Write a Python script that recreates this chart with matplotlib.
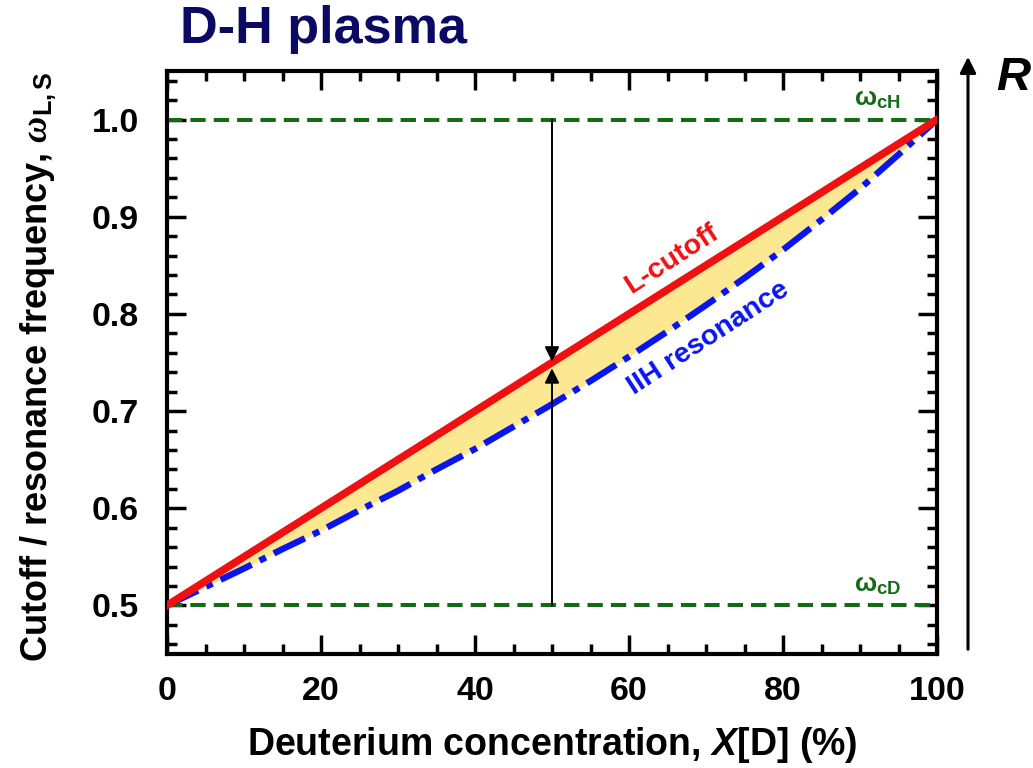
import matplotlib
matplotlib.use("Agg")
import matplotlib.pyplot as plt
from matplotlib.patches import FancyArrowPatch
from matplotlib.ticker import MultipleLocator

plt.rcParams['font.family'] = ['Liberation Sans', 'DejaVu Sans']
plt.rcParams['font.weight'] = 'bold'
plt.rcParams['mathtext.fontset'] = 'custom'
plt.rcParams['mathtext.rm'] = 'Liberation Sans:bold'
plt.rcParams['mathtext.bf'] = 'Liberation Sans:bold'
plt.rcParams['mathtext.it'] = 'Liberation Serif:italic'
plt.rcParams['mathtext.bfit'] = 'Liberation Sans:bold:italic'

# Data
x_conc = [0, 5, 10, 15, 20, 25, 30, 35, 40, 45, 50, 55, 60, 65, 70, 75, 80, 85, 90, 95, 100]
l_cutoff = [0.500, 0.525, 0.550, 0.575, 0.600, 0.625, 0.650, 0.675, 0.700, 0.725, 0.750,
            0.775, 0.800, 0.825, 0.850, 0.875, 0.900, 0.925, 0.950, 0.975, 1.000]
iih_res = [0.500, 0.519, 0.538, 0.558, 0.577, 0.598, 0.618, 0.640, 0.661, 0.684, 0.707,
           0.731, 0.756, 0.782, 0.809, 0.837, 0.866, 0.897, 0.929, 0.964, 1.000]
w_cH = 1.0
w_cD = 0.5
x_mark = 50
x_ticks = [0, 20, 40, 60, 80, 100]
y_ticks = [0.5, 0.6, 0.7, 0.8, 0.9, 1.0]

W, H = 1033, 768
fig = plt.figure(figsize=(W/100, H/100), dpi=100)
ax = fig.add_axes([167/W, 1-654/H, (937-167)/W, (654-71)/H])

ax.fill_between(x_conc, iih_res, l_cutoff, color='#fce890', lw=0, zorder=1)
ax.axhline(w_cH, color='#136b13', lw=2.9, ls=(0, (3.8, 2.0)), zorder=2)
ax.axhline(w_cD, color='#136b13', lw=2.9, ls=(0, (3.8, 2.0)), zorder=2)
ax.plot(x_conc, iih_res, color='#0a14f0', lw=4.6, ls=(0, (5.4, 1.4, 1.1, 1.4)), zorder=3)
ax.plot(x_conc, l_cutoff, color='#f01010', lw=5.5, zorder=4)

ax.annotate('', xy=(x_mark, l_cutoff[10] + 0.001), xytext=(x_mark, w_cH),
            arrowprops=dict(arrowstyle='-|>', lw=1.4, color='k', mutation_scale=22,
                            shrinkA=0, shrinkB=0), zorder=5)
ax.annotate('', xy=(x_mark, 0.744), xytext=(x_mark, w_cD),
            arrowprops=dict(arrowstyle='-|>', lw=1.4, color='k', mutation_scale=22,
                            shrinkA=0, shrinkB=0), zorder=5)

ax.text(65.6, 0.856, 'L-cutoff', color='#f01010', fontsize=20.5, fontweight='bold',
        rotation=33, ha='center', va='center')
ax.text(70.3, 0.775, 'IIH resonance', color='#0a14f0', fontsize=20.5, fontweight='bold',
        rotation=33, ha='center', va='center')
ax.text(92.3, 1.021, r'$\mathrm{\omega}_{\mathrm{cH}}$', color='#136b13', fontsize=19,
        ha='center', va='center')
ax.text(92.3, 0.521, r'$\mathrm{\omega}_{\mathrm{cD}}$', color='#136b13', fontsize=19,
        ha='center', va='center')

ax.set_xlim(0, 100)
ax.set_ylim(0.45, 1.05)
ax.set_xticks(x_ticks)
ax.set_yticks(y_ticks)
ax.set_yticklabels([f'{v:.1f}' for v in y_ticks])
ax.xaxis.set_minor_locator(MultipleLocator(5))
ax.yaxis.set_minor_locator(MultipleLocator(0.02))
ax.tick_params(which='both', direction='in', top=True, right=True, width=2.5,
               labelsize=24.5)
ax.tick_params(axis='y', which='major', pad=20)
ax.tick_params(axis='x', which='major', pad=16)
ax.tick_params(which='major', length=14)
ax.tick_params(which='minor', length=7)
for lab in ax.get_xticklabels() + ax.get_yticklabels():
    lab.set_fontweight('bold')
for sp in ax.spines.values():
    sp.set_linewidth(3)

ax.set_xlabel(r'Deuterium concentration, $\mathbfit{X}$[D] (%)', fontsize=27,
              fontweight='bold')
ax.xaxis.set_label_coords(0.5, -(745-654)/(654-71), transform=ax.transAxes)
ax.xaxis.label.set_va('center')
ax.set_ylabel(r'Cutoff / resonance frequency, $\omega_{\mathbf{L,S}}$', fontsize=26,
              fontweight='bold')
ax.yaxis.set_label_coords(-(167-38)/(937-167), (654-367)/(654-71), transform=ax.transAxes)
ax.yaxis.label.set_va('center')

fig.text(180/W, 1-30/H, 'D-H plasma', color='#0a0a64', fontsize=37.5,
         fontweight='bold', ha='left', va='center')
fig.add_artist(FancyArrowPatch((968/W, 1-652/H), (968/W, 1-54/H),
                               transform=fig.transFigure, arrowstyle='-|>',
                               mutation_scale=24, lw=2.2, color='k'))
fig.text(1013/W, 1-78/H, 'R', fontsize=34, fontweight='bold', style='italic',
         ha='center', va='center')

fig.savefig('out.png', dpi=100)
